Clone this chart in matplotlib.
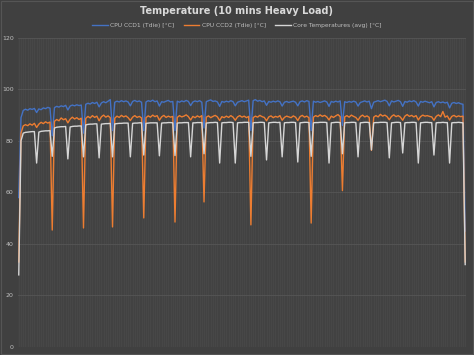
import numpy as np
import matplotlib.pyplot as plt
from matplotlib.patches import Rectangle

# one sample every 3 seconds, 10 minutes
step_s = 3

ccd1 = [58, 89,
        91.8, 92.3, 91.9, 92.5, 92.2, 92.6, 91.0,
        92.4, 92.1, 92.8, 92.5, 93.0, 92.7, 82,
        92.9, 93.4, 93.1, 93.6, 93.3, 93.8, 92.0,
        93.5, 93.9, 93.6, 94.0, 93.7, 93.9, 83,
        94.2, 94.6, 94.3, 94.9, 94.5, 95.0, 93.2,
        94.7, 95.2, 94.8, 95.4, 96.0, 84,
        95.0, 95.4, 95.1, 95.6, 95.2, 95.5, 95.1, 93.6,
        95.3, 95.7, 95.2, 95.5, 95.0, 84,
        95.1, 95.6, 95.3, 95.8, 95.2, 95.5, 93.5,
        95.2, 95.0, 95.4, 95.7, 95.1, 95.3, 84,
        95.4, 95.0, 95.5, 95.2, 95.7, 95.3, 93.7,
        95.1, 95.5, 95.2, 95.6, 95.0, 85,
        95.2, 95.6, 95.9, 95.3, 95.5, 95.1, 93.4,
        95.3, 95.0, 95.4, 95.1, 95.6, 95.2, 93.6,
        95.0, 95.3, 95.6, 95.2, 95.5, 95.8, 84,
        95.6, 96.0, 95.4, 95.7, 95.2, 95.5, 93.8,
        95.3, 95.0, 95.4, 95.1, 95.5, 95.2, 93.5,
        95.0, 95.3, 94.9, 95.2, 95.4, 95.0, 93.6,
        95.2, 95.5, 95.1, 95.6, 95.3, 84,
        95.4, 95.0, 95.3, 94.9, 95.2, 95.5, 95.1, 93.4,
        95.3, 95.0, 95.4, 95.1, 95.5, 86,
        95.2, 94.9, 95.3, 95.0, 95.4, 95.1, 93.5,
        94.9, 95.2, 95.5, 95.1, 95.4, 92.5,
        95.0, 95.3, 95.6, 95.2, 95.5, 95.8, 95.3, 93.6,
        95.5, 95.1, 95.4, 95.7, 95.2, 93.4,
        95.3, 95.0, 95.5, 95.2, 95.6, 95.1, 93.5,
        95.3, 95.0, 95.4, 95.1, 94.8, 95.2, 93.2,
        94.9, 95.2, 94.8, 95.1, 94.7, 95.0, 92.8,
        94.6, 94.9, 94.5, 94.8, 94.4, 94.2, 45]

ccd2 = [33, 83,
        85.8, 86.3, 85.9, 86.6, 86.1, 86.8, 85.2,
        86.5, 87.2, 86.7, 87.4, 86.9, 87.3, 45.4,
        87.6, 88.3, 87.8, 88.9, 88.2, 88.6, 87.0,
        88.4, 89.2, 88.5, 89.0, 88.3, 88.8, 46.2,
        88.7, 89.5, 88.9, 89.8, 89.1, 89.6, 87.8,
        89.3, 90.0, 89.2, 89.7, 89.0, 46.6,
        88.8, 89.6, 89.1, 89.9, 89.3, 89.7, 89.0, 87.9,
        89.2, 89.8, 89.1, 89.5, 88.9, 50.1,
        89.0, 89.7, 89.2, 90.0, 89.4, 89.8, 88.0,
        89.3, 89.9, 89.1, 89.6, 89.2, 89.5, 48.5,
        89.1, 89.8, 89.3, 89.6, 90.1, 89.4, 88.1,
        89.5, 89.0, 89.7, 89.2, 89.8, 56.3,
        89.2, 89.7, 89.0, 89.5, 89.9, 89.3, 87.9,
        89.4, 89.0, 89.6, 89.1, 89.8, 89.2, 88.0,
        89.3, 89.8, 89.2, 89.6, 89.0, 89.5, 47.4,
        89.0, 89.6, 89.2, 89.9, 89.4, 89.1, 87.8,
        89.3, 89.7, 89.0, 89.5, 89.2, 89.8, 88.0,
        89.1, 89.6, 89.3, 89.0, 89.7, 89.2, 87.9,
        89.4, 89.9, 89.2, 89.6, 89.0, 48.1,
        89.2, 89.8, 89.4, 90.1, 89.5, 89.9, 89.3, 88.1,
        89.6, 89.1, 89.7, 90.2, 89.4, 60.7,
        89.3, 89.8, 89.2, 90.0, 89.5, 89.1, 88.0,
        89.4, 90.0, 89.3, 89.7, 89.1, 76.3,
        89.2, 89.8, 89.3, 90.3, 89.6, 90.0, 89.4, 88.2,
        89.5, 90.1, 89.4, 89.8, 89.2, 88.0,
        89.6, 90.2, 89.5, 89.9, 89.3, 89.8, 88.1,
        89.4, 90.0, 89.6, 89.8, 89.5, 89.3, 88.0,
        89.5, 90.1, 89.4, 91.4, 89.2, 89.7, 88.1,
        89.5, 89.9, 89.3, 89.7, 89.4, 89.6, 33]

core = [28, 80,
        83.0, 83.3, 83.4, 83.5, 83.6, 83.6, 71.4,
        83.4, 83.7, 83.8, 83.9, 83.9, 84.0, 74.0,
        85.0, 85.3, 85.4, 85.5, 85.5, 85.6, 73.0,
        85.4, 85.6, 85.7, 85.7, 85.8, 85.8, 73.8,
        86.2, 86.4, 86.5, 86.5, 86.6, 86.6, 73.4,
        86.5, 86.6, 86.7, 86.7, 86.8, 73.8,
        86.6, 86.7, 86.8, 86.8, 86.9, 86.9, 86.9, 73.8,
        86.8, 86.9, 86.9, 87.0, 87.0, 74.5,
        86.8, 86.9, 87.0, 87.0, 87.0, 87.0, 74.2,
        86.9, 87.0, 87.0, 87.1, 87.1, 87.0, 74.3,
        86.9, 87.0, 87.0, 87.1, 87.1, 87.1, 73.8,
        87.0, 87.0, 87.1, 87.1, 87.1, 75.0,
        86.9, 87.0, 87.1, 87.1, 87.2, 87.1, 71.4,
        87.0, 87.1, 87.1, 87.2, 87.2, 87.1, 71.4,
        87.0, 87.1, 87.1, 87.2, 87.2, 87.2, 74.0,
        87.0, 87.1, 87.1, 87.2, 87.2, 87.1, 72.6,
        87.0, 87.1, 87.2, 87.2, 87.1, 87.2, 73.8,
        87.0, 87.1, 87.1, 87.2, 87.2, 87.1, 71.8,
        87.0, 87.1, 87.2, 87.2, 87.1, 74.0,
        87.0, 87.1, 87.1, 87.2, 87.2, 87.2, 87.1, 71.4,
        87.0, 87.1, 87.2, 87.2, 87.1, 75.0,
        87.0, 87.1, 87.1, 87.2, 87.2, 87.1, 73.8,
        87.0, 87.1, 87.2, 87.2, 87.1, 76.5,
        87.0, 87.1, 87.1, 87.2, 87.2, 87.2, 87.1, 73.4,
        87.0, 87.1, 87.2, 87.2, 87.1, 75.3,
        87.0, 87.1, 87.1, 87.2, 87.2, 87.1, 71.4,
        87.0, 87.1, 87.2, 87.2, 87.1, 87.1, 74.5,
        87.0, 87.1, 87.1, 87.2, 87.1, 87.1, 71.4,
        87.0, 87.1, 87.1, 87.2, 87.1, 87.0, 32]

assert len(ccd1) == len(ccd2) == len(core), (len(ccd1), len(ccd2), len(core))

labels = ['CPU CCD1 (Tdie) [°C]', 'CPU CCD2 (Tdie) [°C]', 'Core Temperatures (avg) [°C]']
colors = ['#4472c4', '#ed7d31', '#d6d6d6']
yticks = [0, 20, 40, 60, 80, 100, 120]

t = np.arange(len(ccd1)) * step_s

bg = '#404040'
fig = plt.figure(figsize=(4.74, 3.55), dpi=100, facecolor=bg)
ax = fig.add_axes([0.038, 0.0225, 0.945, 0.871], facecolor='#424242')

# dense category gridlines like the excel export, kept faint
for xv in t:
    ax.axvline(xv, color='#4a4a4a', lw=0.5, zorder=0)
for yv in yticks[1:]:
    ax.axhline(yv, color='#565656', lw=0.6, zorder=0.5)

lines = []
for vals, c, lab in zip([ccd1, ccd2, core], colors, labels):
    ln, = ax.plot(t, vals, color=c, lw=1.0, label=lab, solid_joinstyle='round')
    lines.append(ln)

ax.set_xlim(t[0] - 1, t[-1] + 1)
ax.set_ylim(0, 120)
ax.set_yticks(yticks)
ax.set_xticks([])
ax.tick_params(axis='y', length=0, labelsize=4.5, labelcolor='#bfbfbf', pad=3)
for s in ax.spines.values():
    s.set_visible(False)

fig.text(0.5, 0.970, 'Temperature (10 mins Heavy Load)', ha='center', va='center',
         fontsize=7, fontweight='bold', color='#d9d9d9')
fig.legend(handles=lines, loc='center', bbox_to_anchor=(0.5, 0.928), ncol=3,
           frameon=False, fontsize=4.3, labelcolor='#bfbfbf', handlelength=2.6,
           handletextpad=0.4, columnspacing=1.6)

fig.add_artist(Rectangle((0.002, 0.003), 0.995, 0.993, transform=fig.transFigure,
                         fill=False, edgecolor='#555555', lw=0.8))

fig.savefig('out.png', dpi=100, facecolor=bg)
